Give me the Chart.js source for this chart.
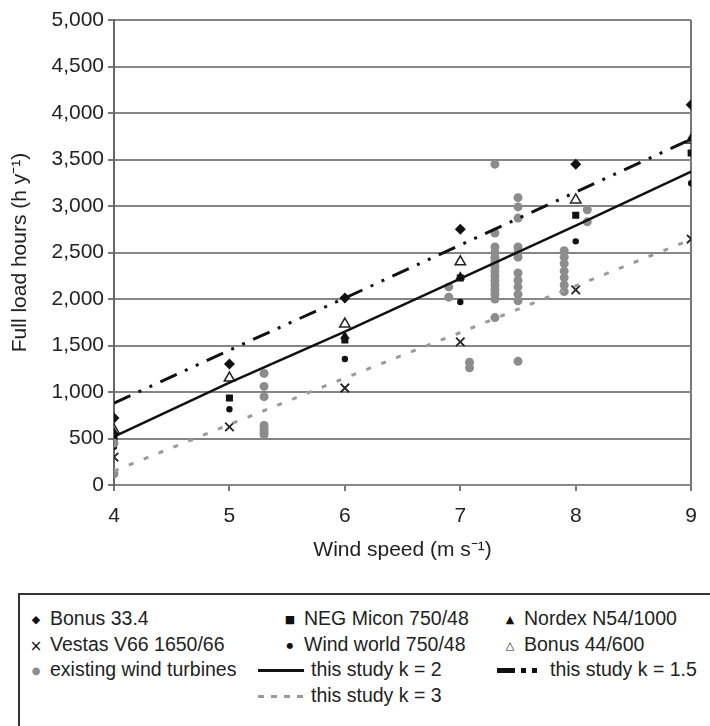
<!DOCTYPE html>
<html>
<head>
<meta charset="utf-8">
<script src="https://cdn.jsdelivr.net/npm/chart.js@4"></script>
<style>
  body { margin: 0; background: #fff; font-family: "Liberation Sans", Arial, sans-serif; color: #222; }
  #wrap { position: relative; width: 710px; height: 726px; overflow: hidden; }
  #plot { position: absolute; left: 0; top: 0; }
  #legend { position: absolute; left: 18px; top: 593px; width: 720px; height: 160px; border: 2px solid #333; box-sizing: border-box; }
  .item { position: absolute; font-size: 19.5px; line-height: 22px; white-space: nowrap; }
  .mk { display: inline-block; width: 16px; text-align: center; font-family: "DejaVu Sans", sans-serif; font-size: 11px; vertical-align: middle; margin-right: 6px; }
  .ln { display: inline-block; width: 46px; height: 3px; vertical-align: middle; margin-right: 7px; }
</style>
</head>
<body>
<div id="wrap">
  <canvas id="plot" width="710" height="580"></canvas>
  <div id="legend"></div>
</div>
<script>
/* data
************************************************** */
var windSpeeds = [4, 5, 6, 7, 8, 9];
var bonus334   = [720, 1300, 2010, 2750, 3450, 4090];
var negMicon   = [505, 935, 1560, 2226, 2900, 3570];
var nordexX    = [4, 6, 7, 9];
var nordexY    = [570, 1600, 2240, 3720];
var vestas     = [300, 625, 1043, 1538, 2097, 2645];
var windWorld  = [410, 815, 1355, 1968, 2620, 3245];
var bonus44    = [590, 1150, 1730, 2400, 3065, 3710];

var existingX = [4, 4,
  5.3, 5.3, 5.3, 5.3, 5.3, 5.3, 5.3,
  6.9, 6.9, 7.08, 7.08,
  7.3, 7.3, 7.3, 7.3, 7.3, 7.3, 7.3, 7.3, 7.3, 7.3, 7.3, 7.3, 7.3, 7.3, 7.3,
  7.5, 7.5, 7.5, 7.5, 7.5, 7.5, 7.5, 7.5, 7.5, 7.5, 7.5, 7.5,
  7.9, 7.9, 7.9, 7.9, 7.9, 7.9, 7.9,
  8.1, 8.1];
var existingY = [450, 120,
  1200, 1060, 950, 640, 600, 570, 540,
  2130, 2020, 1320, 1260,
  3450, 2710, 2560, 2500, 2450, 2400, 2350, 2300, 2250, 2200, 2150, 2100, 2050, 2000, 1800,
  3090, 2990, 2870, 2560, 2500, 2450, 2280, 2200, 2130, 2050, 1980, 1330,
  2520, 2450, 2380, 2300, 2230, 2150, 2080,
  2960, 2830];

var studyK2  = [520, 1100, 1650, 2220, 2790, 3370];
var studyK15 = [880, 1450, 2010, 2580, 3150, 3720];
var studyK3  = [150, 650, 1150, 1640, 2140, 2640];

var yTicks = [0, 500, 1000, 1500, 2000, 2500, 3000, 3500, 4000, 4500, 5000];

function pts(xs, ys) {
	return xs.map(function(x, i){ return { x: x, y: ys[i] }; });
}

Chart.defaults.font.family = '"Liberation Sans", Arial, sans-serif';
Chart.defaults.font.size = 21;
Chart.defaults.color = '#222';

var ctx = document.getElementById('plot').getContext('2d');
var myChart = new Chart(ctx, {
	type: 'scatter',
	data: {
		datasets: [
			{ label: 'this study k = 2', data: pts(windSpeeds, studyK2), showLine: true, borderColor: '#111', borderWidth: 2.5, pointRadius: 0 },
			{ label: 'this study k = 1.5', data: pts(windSpeeds, studyK15), showLine: true, borderColor: '#111', borderWidth: 3, borderDash: [18, 9, 3, 9, 3, 9], pointRadius: 0 },
			{ label: 'this study k = 3', data: pts(windSpeeds, studyK3), showLine: true, borderColor: '#9a9a9a', borderWidth: 3, borderDash: [5, 11], pointRadius: 0 },
			{ label: 'existing wind turbines', data: pts(existingX, existingY), pointStyle: 'circle', pointRadius: 4.5, backgroundColor: '#8c8c8c', borderColor: '#8c8c8c', borderWidth: 0 },
			{ label: 'Bonus 33.4', data: pts(windSpeeds, bonus334), pointStyle: 'rectRot', pointRadius: 5.5, backgroundColor: '#111', borderColor: '#111', borderWidth: 0 },
			{ label: 'NEG Micon 750/48', data: pts(windSpeeds, negMicon), pointStyle: 'rect', pointRadius: 5, backgroundColor: '#111', borderColor: '#111', borderWidth: 0 },
			{ label: 'Nordex N54/1000', data: pts(nordexX, nordexY), pointStyle: 'triangle', pointRadius: 5.5, backgroundColor: '#111', borderColor: '#111', borderWidth: 0 },
			{ label: 'Vestas V66 1650/66', data: pts(windSpeeds, vestas), pointStyle: 'crossRot', pointRadius: 6, borderColor: '#222', borderWidth: 1.8 },
			{ label: 'Wind world 750/48', data: pts(windSpeeds, windWorld), pointStyle: 'circle', pointRadius: 3.2, backgroundColor: '#111', borderColor: '#111', borderWidth: 0 },
			{ label: 'Bonus 44/600', data: pts(windSpeeds, bonus44), pointStyle: 'triangle', pointRadius: 6, backgroundColor: '#fff', borderColor: '#222', borderWidth: 1.5 }
		]
	},
	options: {
		responsive: false,
		animation: false,
		layout: { padding: { top: 20, right: 18, left: 0, bottom: 0 } },
		plugins: { legend: { display: false }, tooltip: { enabled: false } },
		scales: {
			x: {
				type: 'linear', min: 4, max: 9,
				ticks: { stepSize: 1, padding: 13, color: '#222' },
				grid: {
					color: function(c){ return c.tick && c.tick.value === 9 ? '#777' : 'rgba(0,0,0,0)'; },
					tickColor: '#777', lineWidth: 2, tickLength: 6
				},
				border: { display: false },
				title: { display: true, text: 'Wind speed (m s\u207B\u00B9)', font: { size: 21 }, padding: { top: 0, bottom: 17 }, color: '#222' },
				afterFit: function(s){ s.height = 95; }
			},
			y: {
				min: 0, max: 5000,
				afterBuildTicks: function(s){ s.ticks = yTicks.map(function(v){ return { value: v }; }); },
				ticks: { padding: 4, color: '#222', callback: function(v){ return v.toLocaleString('en-US'); } },
				grid: { color: '#858585', lineWidth: 2, tickLength: 6, tickColor: '#777' },
				border: { color: '#666', width: 2 },
				title: { display: true, text: 'Full load hours (h y\u207B\u00B9)', font: { size: 21 }, padding: { top: 8, bottom: 0 }, color: '#222' },
				afterFit: function(s){ s.width = 114; }
			}
		}
	}
});

/* legend as html
************************************************** */
var legendItems = [
	{ x: 8,   y: 12,  mk: '\u25C6', text: 'Bonus 33.4' },
	{ x: 262, y: 12,  mk: '\u25A0', text: 'NEG Micon 750/48' },
	{ x: 482, y: 12,  mk: '\u25B2', text: 'Nordex N54/1000' },
	{ x: 8,   y: 38,  mk: '\u00D7', text: 'Vestas V66 1650/66', size: 15 },
	{ x: 262, y: 38,  mk: '\u25CF', text: 'Wind world 750/48', size: 8 },
	{ x: 482, y: 38,  mk: '\u25B3', text: 'Bonus 44/600' },
	{ x: 8,   y: 63,  mk: '\u25CF', text: 'existing wind turbines', color: '#8c8c8c', size: 10 },
	{ x: 238, y: 63,  ln: 'background:#111', text: 'this study k = 2' },
	{ x: 477, y: 63,  ln: 'background:repeating-linear-gradient(90deg,#111 0 18px,#fff 18px 24px,#111 24px 29px,#fff 29px 35px,#111 35px 40px,#fff 40px 50px)', text: 'this study k = 1.5', h: 5 },
	{ x: 238, y: 89,  ln: 'background:repeating-linear-gradient(90deg,#9a9a9a 0 6px,#fff 6px 13px)', text: 'this study k = 3' }
];
var legend = document.getElementById('legend');
legendItems.forEach(function(it){
	var d = document.createElement('div');
	d.className = 'item';
	d.style.left = it.x + 'px';
	d.style.top = it.y + 'px';
	var sym;
	if (it.ln) {
		sym = '<span class="ln" style="' + it.ln + ';height:' + (it.h || 3) + 'px"></span>';
	} else {
		sym = '<span class="mk" style="color:' + (it.color || '#111') + ';font-size:' + (it.size || 11) + 'px">' + it.mk + '</span>';
	}
	d.innerHTML = sym + it.text;
	legend.appendChild(d);
});
</script>
</body>
</html>
